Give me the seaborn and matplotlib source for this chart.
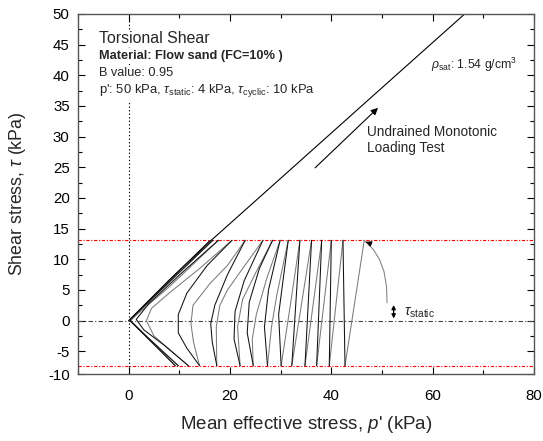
import numpy as np
import pandas as pd
import matplotlib
matplotlib.use("Agg")
import matplotlib.pyplot as plt
import seaborn as sns
from matplotlib.ticker import FixedLocator

# ---------------- data ----------------
# Undrained monotonic loading path (p', tau)
mono_p = [0.0, 8.0, 16.3, 30.0, 48.0, 67.0]
mono_tau = [0.0, 6.6, 13.1, 23.2, 36.5, 50.5]

TAU_MAX = 13.1   # upper cyclic bound
TAU_MIN = -7.35  # lower cyclic bound

# Cyclic stress path vertices (p', tau), in loading order
cyc_p = [51.0, 50.9, 50.4, 49.5, 48.3, 46.5,
         42.7, 42.3, 39.6, 40.0, 37.1, 38.1, 34.8, 36.1, 32.2, 33.8,
         32.0, 30.1, 29.6, 31.5,
         29.2, 28.2, 27.4,
         26.8, 27.6, 29.9,
         27.3, 25.2, 24.4, 24.6,
         23.4, 23.8, 25.8, 28.4,
         25.2, 22.5, 21.5, 22.0,
         20.8, 21.0, 22.8, 26.5,
         22.5, 19.5, 18.0, 17.3, 17.4,
         16.5, 16.2, 17.0, 19.5, 23.0,
         19.5, 16.0, 12.7, 12.3, 12.8, 14.0,
         11.5, 9.8, 9.8, 11.5, 15.5, 20.4,
         14.0, 8.0, 4.5, 3.5, 5.0, 8.5, 11.8,
         7.0, 3.0, 1.5, 4.0, 10.5, 17.7,
         8.0, 1.5, 0.4, 4.0, 9.8,
         1.0, 0.2, 8.0, 16.6,
         0.3, 4.5, 9.2,
         0.2, 8.0, 16.1]
cyc_tau = [2.9, 5.5, 8.0, 10.0, 11.6, TAU_MAX,
           TAU_MIN, TAU_MAX, TAU_MIN, TAU_MAX, TAU_MIN, TAU_MAX, TAU_MIN, TAU_MAX, TAU_MIN, TAU_MAX,
           3.0, TAU_MIN, 1.0, TAU_MAX,
           4.0, -1.0, TAU_MIN,
           -1.0, 5.0, TAU_MAX,
           7.0, 1.0, -3.0, TAU_MIN,
           -2.0, 3.0, 8.5, TAU_MAX,
           8.0, 3.5, -1.0, TAU_MIN,
           -3.0, 1.5, 6.5, TAU_MAX,
           8.5, 5.0, 2.5, -1.0, TAU_MIN,
           -3.5, -0.5, 2.5, 7.5, TAU_MAX,
           9.0, 6.0, 2.5, -0.5, -3.5, TAU_MIN,
           -4.5, -2.0, 1.0, 4.5, 9.0, TAU_MAX,
           8.5, 4.5, 2.0, 0.0, -2.5, -5.0, TAU_MIN,
           -4.0, -1.5, 0.2, 2.8, 7.8, TAU_MAX,
           5.5, 0.9, 0.0, -3.0, TAU_MIN,
           -0.6, 0.1, 6.3, TAU_MAX,
           0.1, -3.4, TAU_MIN,
           0.05, 6.6, TAU_MAX]

x_ticks = [0, 20, 40, 60, 80]
y_ticks = [-5, 0, 5, 10, 15, 20, 25, 30, 35, 40, 45, 50]
Y_BOTTOM = -8.7

# ---------------- split cyclic path into loading / unloading legs ----------------
rows = []
seg = 0
prev = None
for i, (p, t) in enumerate(zip(cyc_p, cyc_tau)):
    if prev is not None:
        rows.append(dict(p=prev[0], tau=prev[1], seg=seg))
        rows.append(dict(p=p, tau=t, seg=seg))
    prev = (p, t)
    if i > 0 and (np.isclose(t, TAU_MAX) or np.isclose(t, TAU_MIN)):
        seg += 1
df = pd.DataFrame(rows)
kind = {}
for s, g in df.groupby("seg"):
    end_tau = g["tau"].iloc[-1]
    if s == 0:
        kind[s] = "start"
    elif np.isclose(end_tau, TAU_MIN):
        kind[s] = "unload"
    else:
        kind[s] = "load"
df["kind"] = df["seg"].map(kind)

mono_df = pd.DataFrame(dict(p=mono_p, tau=mono_tau))

# ---------------- plot ----------------
sns.set_style("ticks")
plt.rcParams["font.family"] = ["Liberation Sans", "DejaVu Sans"]
plt.rcParams["mathtext.fontset"] = "custom"
plt.rcParams["mathtext.rm"] = "Liberation Sans"
plt.rcParams["mathtext.it"] = "Liberation Sans:italic"

fig = plt.figure(figsize=(5.43, 4.41), dpi=100)
ax = fig.add_axes([0.1436, 0.1519, 0.8398, 0.8164])

# reference lines
ax.axvline(0, color="black", ls=(0, (1.2, 2)), lw=0.8, zorder=1)
ax.axhline(0, color="#444444", ls=(0, (4, 2, 1, 2)), lw=0.8, zorder=1)
ax.axhline(TAU_MAX, color="red", ls=(0, (3, 1.5, 1, 1.5)), lw=0.8, zorder=1)
ax.axhline(TAU_MIN, color="red", ls=(0, (3, 1.5, 1, 1.5)), lw=0.8, zorder=1)

sns.lineplot(data=mono_df, x="p", y="tau", sort=False, estimator=None,
             color="black", lw=0.8, ax=ax)
sns.lineplot(data=df, x="p", y="tau", units="seg", hue="kind", sort=False,
             estimator=None, lw=0.75, legend=False, ax=ax,
             palette={"start": "#808080", "unload": "#7a7a7a", "load": "#111111"})

# arrows
ax.annotate("", xy=(46.3, 13.0), xytext=(47.6, 12.6),
            arrowprops=dict(arrowstyle="-|>", color="black", lw=0.8, mutation_scale=8))
ax.annotate("", xy=(49.6, 35.0), xytext=(36.4, 24.6),
            arrowprops=dict(arrowstyle="-|>", color="black", lw=0.8, mutation_scale=10))
ax.annotate("", xy=(52.3, 3.0), xytext=(52.3, -0.1),
            arrowprops=dict(arrowstyle="<|-|>", color="black", lw=0.9, mutation_scale=6))

# text block (white background hides the p'=0 guide line, as in the reference)
ax.text(-5.9, 46.0, "Torsional Shear", fontsize=11.4, va="center", ha="left",
        bbox=dict(facecolor="white", edgecolor="none", pad=1), zorder=5)
ax.text(-5.9, 43.1, "Material: Flow sand (FC=10% )", fontsize=9.2, fontweight="bold",
        va="center", ha="left", bbox=dict(facecolor="white", edgecolor="none", pad=1.5), zorder=5)
ax.text(-5.9, 40.4, "B value: 0.95", fontsize=9.2, va="center", ha="left",
        bbox=dict(facecolor="white", edgecolor="none", pad=1.5), zorder=5)
ax.text(-5.9, 37.6,
        r"p': 50 kPa, $\tau_{\mathrm{static}}$: 4 kPa, $\tau_{\mathrm{cyclic}}$: 10 kPa",
        fontsize=9.4, va="center", ha="left",
        bbox=dict(facecolor="white", edgecolor="none", pad=2), zorder=5)
ax.text(59.6, 41.7, r"$\rho_{\mathrm{sat}}$: 1.54 g/cm$^3$", fontsize=8.8, va="center",
        ha="left", color="#222222")
ax.text(47.0, 29.5, "Undrained Monotonic\nLoading Test", fontsize=9.8, va="center",
        ha="left", linespacing=1.2)
ax.text(54.3, 1.3, r"$\tau_{\mathrm{static}}$", fontsize=10.5, va="center", ha="left")

# axes
ax.set_xlim(-10, 80)
ax.set_ylim(Y_BOTTOM, 50)
ax.xaxis.set_major_locator(FixedLocator(x_ticks))
ax.xaxis.set_minor_locator(FixedLocator([-10, 10, 30, 50, 70]))
ax.set_xticklabels([str(v) for v in x_ticks])
ax.set_yticks([Y_BOTTOM] + y_ticks)
ax.set_yticklabels(["-10"] + [str(v) for v in y_ticks])
ax.yaxis.set_minor_locator(FixedLocator(np.arange(-2.5, 50, 5)))
ax.tick_params(which="both", direction="in", top=True, right=True, labelsize=10.8,
               colors="black", width=0.8)
ax.tick_params(which="major", length=5)
ax.tick_params(which="minor", length=3)
ax.tick_params(axis="x", which="major", pad=11)
ax.tick_params(axis="y", which="major", pad=6)
for sp in ax.spines.values():
    sp.set_color("#555555")
    sp.set_linewidth(1.0)

ax.set_xlabel("Mean effective stress, $p$' (kPa)", fontsize=13.5, labelpad=8)
ax.set_ylabel(r"Shear stress, $\tau$ (kPa)", fontsize=12.8, labelpad=14)

fig.savefig("out.png", dpi=100)
